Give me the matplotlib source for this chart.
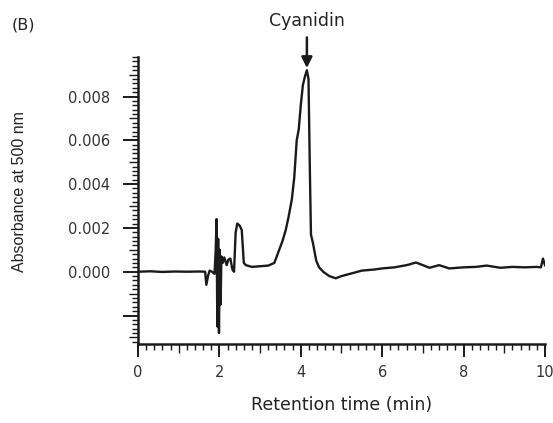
import matplotlib
matplotlib.use("Agg")
import matplotlib.pyplot as plt
from matplotlib.ticker import MultipleLocator, FuncFormatter

plt.rcParams['font.family'] = ['DejaVu Sans']

time_min = [0.00, 0.30, 0.60, 0.90, 1.20, 1.50, 1.65, 1.68, 1.72, 1.76, 1.82, 1.88,
            1.91, 1.93, 1.95, 1.97, 1.99, 2.01, 2.03, 2.05, 2.08, 2.12, 2.18, 2.22,
            2.27, 2.32, 2.36, 2.40, 2.44, 2.50, 2.55, 2.60, 2.65, 2.80, 3.00, 3.20,
            3.35, 3.45, 3.55, 3.63, 3.70, 3.78, 3.84, 3.90, 3.95, 4.00, 4.05, 4.10,
            4.15, 4.19, 4.22, 4.25, 4.30, 4.38, 4.45, 4.55, 4.70, 4.86, 5.00, 5.20,
            5.50, 5.80, 6.00, 6.30, 6.60, 6.83, 7.00, 7.16, 7.40, 7.65, 8.00, 8.30,
            8.57, 8.90, 9.20, 9.50, 9.80, 9.90, 9.95, 10.00]
absorbance = [0.00000, 0.00002, -0.00001, 0.00001, 0.00000, 0.00001, 0.00000, -0.00060, -0.00020, 0.00005, 0.00000, -0.00010,
              0.00100, 0.00240, -0.00250, 0.00150, -0.00280, 0.00100, -0.00150, 0.00070, 0.00040, 0.00065, 0.00030, 0.00055,
              0.00060, 0.00010, 0.00000, 0.00180, 0.00220, 0.00210, 0.00190, 0.00040, 0.00030, 0.00022, 0.00025, 0.00028,
              0.00040, 0.00090, 0.00140, 0.00190, 0.00250, 0.00330, 0.00430, 0.00600, 0.00650, 0.00760, 0.00850, 0.00890,
              0.00920, 0.00880, 0.00500, 0.00170, 0.00130, 0.00050, 0.00020, 0.00000, -0.00020, -0.00030, -0.00020, -0.00010,
              0.00005, 0.00010, 0.00015, 0.00020, 0.00030, 0.00042, 0.00030, 0.00018, 0.00030, 0.00015, 0.00020, 0.00022,
              0.00028, 0.00018, 0.00022, 0.00020, 0.00022, 0.00020, 0.00060, 0.00030]

x_major = [0, 2, 4, 6, 8, 10]
y_major = [-0.002, 0.000, 0.002, 0.004, 0.006, 0.008]
peak_time = 4.15
peak_label = 'Cyanidin'

fig = plt.figure(figsize=(5.53, 4.23), dpi=100)
ax = fig.add_axes([0.2495, 0.1868, 0.7360, 0.6782])
ax.plot(time_min, absorbance, color='#1a1a1a', lw=1.7)

ax.set_xlim(0, 10)
ax.set_ylim(-0.0033, 0.0098)
ax.spines['top'].set_visible(False)
ax.spines['right'].set_visible(False)
for s in ['left', 'bottom']:
    ax.spines[s].set_linewidth(1.8)
    ax.spines[s].set_color('#1a1a1a')

ax.set_xticks(x_major)
ax.set_yticks(y_major)
ax.xaxis.set_minor_locator(MultipleLocator(0.2))
ax.yaxis.set_minor_locator(MultipleLocator(0.0002))
ax.yaxis.set_major_formatter(FuncFormatter(lambda v, p: '' if v < -1e-9 else f'{abs(v):.3f}'))
ax.tick_params(axis='y', which='major', length=11, width=1.4, color='#1a1a1a',
               labelsize=10.5, labelcolor='#333333', pad=9)
ax.tick_params(axis='x', which='major', length=9, width=1.4, color='#1a1a1a',
               labelsize=10.5, labelcolor='#333333', pad=6)
ax.tick_params(which='minor', length=4, width=1.0, color='#1a1a1a')

# medium-length ticks at half-major positions
fig.canvas.draw()
for t, loc in zip(ax.xaxis.get_minor_ticks(), ax.xaxis.get_minorticklocs()):
    if abs((loc % 2) - 1) < 1e-6:
        t.tick1line.set_markersize(6.5)
for t, loc in zip(ax.yaxis.get_minor_ticks(), ax.yaxis.get_minorticklocs()):
    r = round(loc / 0.0002)
    if r % 10 == 5:
        t.tick1line.set_markersize(6.5)

ax.set_xlabel('Retention time (min)', fontsize=12.5, color='#222222')
ax.xaxis.set_label_coords(0.5, -0.2125)
ax.xaxis.label.set_va('center')
ax.set_ylabel('Absorbance at 500 nm', fontsize=11.5, color='#222222',
              family=['Liberation Sans', 'DejaVu Sans'])
ax.yaxis.set_label_coords(-0.29, 0.53)
ax.yaxis.label.set_va('center')

fig.text(12/553, 1-25/423, '(B)', fontsize=11.5, color='#222222', va='center', ha='left')
ax.text(peak_time, 0.01144, peak_label, ha='center', va='center', fontsize=12.5,
        color='#222222', clip_on=False)
ax.annotate('', xy=(peak_time, 0.0093), xytext=(peak_time, 0.0107),
            annotation_clip=False,
            arrowprops=dict(arrowstyle='-|>', color='#1a1a1a', lw=1.8,
                            mutation_scale=16, shrinkA=0, shrinkB=0))

fig.savefig('out.png', dpi=100)
